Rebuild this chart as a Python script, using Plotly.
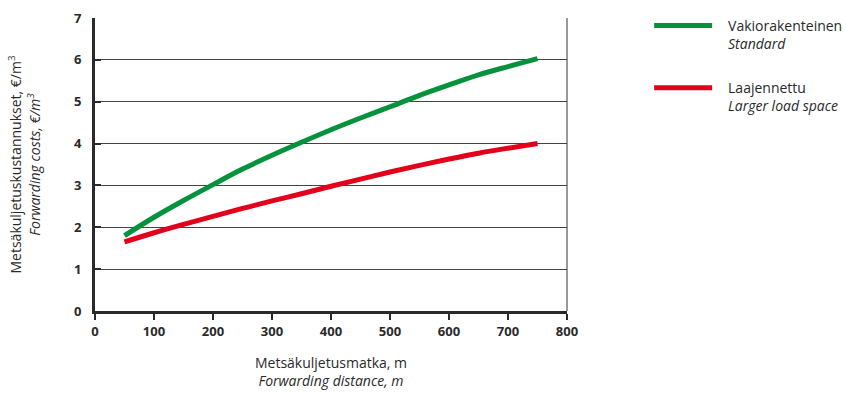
import plotly.graph_objects as go

distance = [50, 100, 150, 200, 250, 300, 350, 400, 450, 500, 550, 600, 650, 700, 750]
standard = [1.80, 2.24, 2.64, 3.02, 3.39, 3.72, 4.03, 4.33, 4.61, 4.88, 5.15, 5.40, 5.64, 5.84, 6.03]
larger = [1.65, 1.87, 2.07, 2.26, 2.45, 2.63, 2.80, 2.98, 3.15, 3.32, 3.48, 3.63, 3.77, 3.89, 4.00]
series_names = ["Vakiorakenteinen<br><i>Standard</i>", "Laajennettu<br><i>Larger load space</i>"]
x_ticks = [0, 100, 200, 300, 400, 500, 600, 700, 800]
y_ticks = [0, 1, 2, 3, 4, 5, 6, 7]

FONT = "Open Sans"
PAD = "\u00a0\u00a0\u00a0"


def pad_name(name):
    return "<br>".join(PAD + part for part in name.split("<br>"))


fig = go.Figure()
fig.add_trace(go.Scatter(x=distance, y=standard, mode="lines", name=pad_name(series_names[0]),
                         legendgroup="a",
                         line=dict(color="#05923C", width=5, shape="spline")))
fig.add_trace(go.Scatter(x=distance, y=larger, mode="lines", name=pad_name(series_names[1]),
                         legendgroup="b",
                         line=dict(color="#E3001B", width=5, shape="spline")))

fig.add_shape(type="line", xref="x domain", yref="y domain", x0=1, x1=1, y0=0, y1=1,
              line=dict(color="#333333", width=1))

fig.update_layout(
    width=846, height=394,
    margin=dict(l=95, r=279, t=18, b=83, autoexpand=False),
    plot_bgcolor="white", paper_bgcolor="white",
    font=dict(family=FONT, color="#2a2a2a", size=14),
    legend=dict(x=1.174, y=1.028, xanchor="left", yanchor="top", valign="top",
                itemwidth=58, tracegroupgap=23, font=dict(size=14, color="#2a2a2a"),
                bgcolor="rgba(0,0,0,0)"),
    xaxis=dict(range=[0, 800], tickvals=x_ticks, showgrid=False, zeroline=False, automargin=False,
               showline=True, linecolor="#2a2a2a", linewidth=3,
               ticks="outside", ticklen=6, tickwidth=2, tickcolor="#2a2a2a",
               tickfont=dict(family=FONT, size=13, color="#2a2a2a", weight="bold"),
               title=dict(text="Metsäkuljetusmatka, m<br><i>Forwarding distance, m</i>",
                          font=dict(size=14), standoff=20)),
    yaxis=dict(range=[0, 7], tickvals=y_ticks, showgrid=True, gridcolor="#444444", gridwidth=1,
               zeroline=False, showline=True, linecolor="#2a2a2a", linewidth=3, automargin=False,
               ticks="inside", ticklen=6, tickwidth=2, tickcolor="#2a2a2a",
               ticklabelstandoff=8,
               tickfont=dict(family=FONT, size=13, color="#2a2a2a", weight="bold"),
               title=dict(text="Metsäkuljetuskustannukset, €/m<sup>3</sup><br><i>Forwarding costs, €/m<sup>3</sup></i>",
                          font=dict(size=14), standoff=31)),
)

fig.write_html("out.html", config={"displayModeBar": False},
               post_script="document.body.style.margin='0';")
